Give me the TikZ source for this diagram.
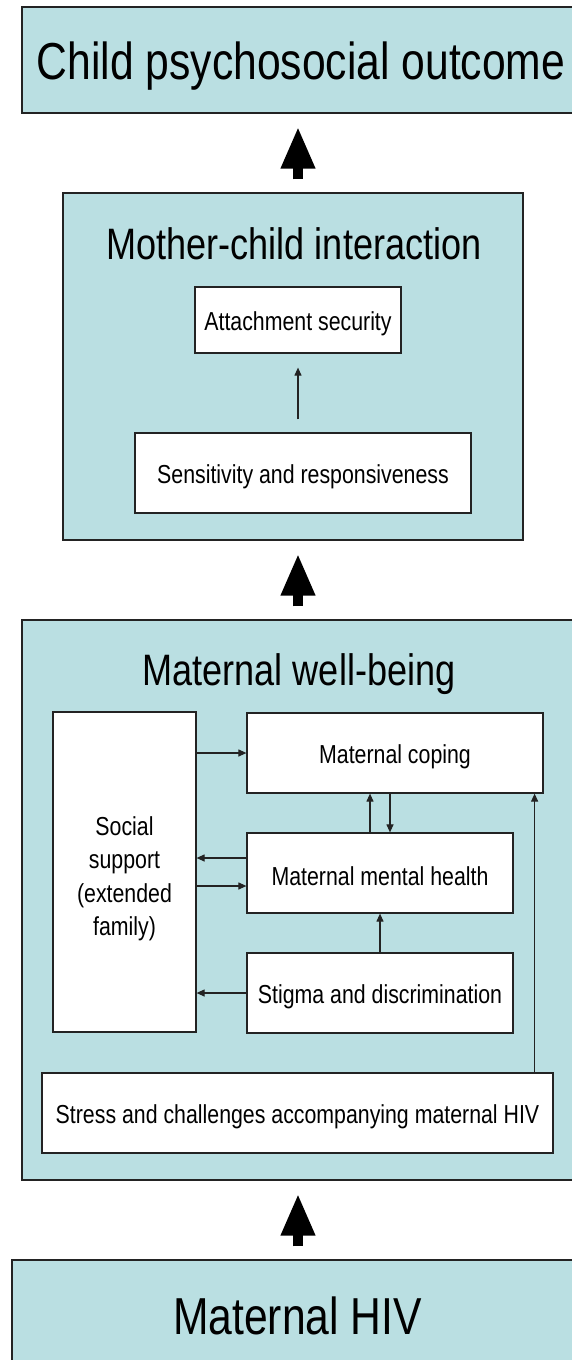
\documentclass[tikz,border=0pt]{standalone}
\usepackage{fontspec}
\setmainfont[FakeStretch=0.82]{Liberation Sans}
\usetikzlibrary{arrows.meta}
\definecolor{boxteal}{RGB}{186,223,226}
\definecolor{edgegray}{RGB}{35,35,35}
\begin{document}
\begin{tikzpicture}[x=1pt,y=-1pt,
  bigbox/.style={draw=edgegray,line width=1.4pt,fill=boxteal,rectangle,inner sep=0pt},
  whitebox/.style={draw=edgegray,line width=1.2pt,fill=white,rectangle,inner sep=0pt,align=center,
    font=\fontsize{26}{33.5}\selectfont,execute at begin node={\rule{0pt}{26pt}}},
  bigtitle/.style={font=\fontsize{52}{60}\selectfont,inner sep=0pt},
  midtitle/.style={font=\fontsize{44}{50}\selectfont,inner sep=0pt},
  sarr/.style={draw=edgegray,line width=1.1pt,-{Triangle[length=8pt,width=7pt]}},
  blockarr/.style={draw=black,line width=10pt,-{Triangle[length=42pt,width=32pt]},shorten <=13pt,shorten >=13pt}
]
\useasboundingbox (0,0) rectangle (572,1360);
\clip (0,0) rectangle (572,1360);
\fill[white] (0,0) rectangle (572,1360);

% outer boxes
\node[bigbox,minimum width=558pt,minimum height=106pt] (top) at (301,60) {};
\node[bigtitle] (toptxt) at (301,66) {Child psychosocial outcome};

\node[bigbox,minimum width=460pt,minimum height=347pt] (mci) at (293,366.5) {};
\node[midtitle] (mcitxt) at (294,244) {Mother-child interaction};

\node[bigbox,minimum width=558pt,minimum height=560pt] (mwb) at (301,900) {};
\node[midtitle] (mwbtxt) at (299,674) {Maternal well-being};

\node[bigbox,minimum width=571pt,minimum height=110pt] (hiv) at (297.5,1315) {};
\node[bigtitle] (hivtxt) at (297.5,1316) {Maternal HIV};

% inner boxes
\node[whitebox,minimum width=206pt,minimum height=66pt] (att) at (298,320) {Attachment security};
\node[whitebox,minimum width=336pt,minimum height=80pt] (sens) at (303,473) {Sensitivity and responsiveness};

\node[whitebox,minimum width=143pt,minimum height=320pt,execute at begin node={}] (soc) at (124.5,872) {\rule{0pt}{32pt}Social\\support\\(extended\\family)};
\node[whitebox,minimum width=296pt,minimum height=80pt] (cop) at (395,753) {Maternal coping};
\node[whitebox,minimum width=266pt,minimum height=80pt] (mmh) at (380,873) {Maternal mental health};
\node[whitebox,minimum width=266pt,minimum height=80pt] (stig) at (380,993) {Stigma and discrimination};
\node[whitebox,minimum width=511pt,minimum height=80pt] (stress) at (297.5,1113) {Stress and challenges accompanying maternal HIV};

% block arrows
\coordinate (ax) at (298,0);
\draw[blockarr] (mci.north -| ax) -- (top.south -| ax);
\draw[blockarr] (mwb.north -| ax) -- (mci.south -| ax);
\draw[blockarr] (hiv.north -| ax) -- (mwb.south -| ax);

% small arrows
\draw[sarr,shorten <=13pt,shorten >=14pt] (sens.north -| att.south) -- (att.south);
\draw[sarr] (soc.east |- cop.west) -- (cop.west);
\draw[sarr] ([yshift=15pt]mmh.west) -- ([yshift=15pt]mmh.west -| soc.east);
\draw[sarr] ([yshift=-13pt]mmh.west -| soc.east) -- ([yshift=-13pt]mmh.west);
\draw[sarr] ([xshift=-10pt]mmh.north) -- ([xshift=-10pt]mmh.north |- cop.south);
\draw[sarr] ([xshift=10pt]mmh.north |- cop.south) -- ([xshift=10pt]mmh.north);
\draw[sarr] (stig.north) -- (mmh.south);
\draw[sarr] (stig.west) -- (stig.west -| soc.east);
\coordinate (sx) at ([xshift=-9pt]cop.south east);
\draw[sarr] (stress.north -| sx) -- (sx);
\end{tikzpicture}
\end{document}
